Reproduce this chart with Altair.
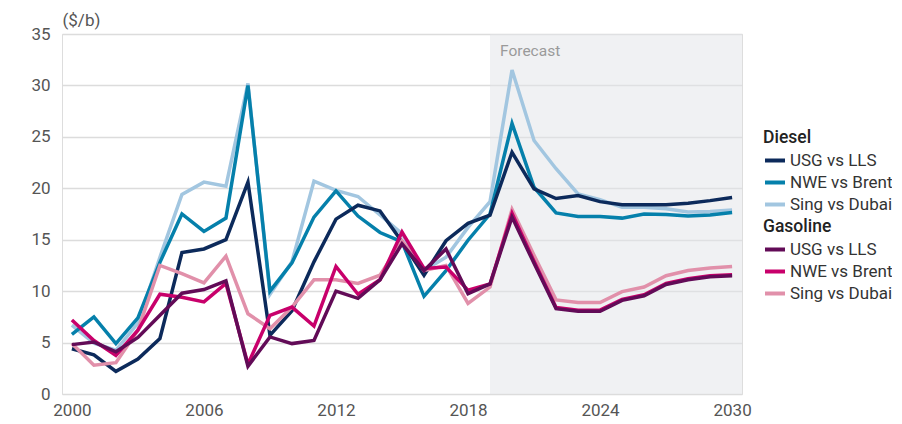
import altair as alt
import pandas as pd

years = list(range(2000, 2031))
series_names = ["USG vs LLS", "NWE vs Brent", "Sing vs Dubai"]

diesel_usg = [4.4, 3.8, 2.2, 3.4, 5.4, 13.75, 14.1, 15.0, 20.6, 5.7, 8.1, 12.85, 17.0, 18.35, 17.8, 14.8,
              11.55, 14.9, 16.6, 17.4, 23.5, 19.95, 19.0, 19.3, 18.7, 18.4, 18.4, 18.4, 18.55, 18.8, 19.1]
diesel_nwe = [5.8, 7.5, 4.9, 7.4, 12.8, 17.5, 15.8, 17.1, 30.0, 10.0, 12.75, 17.2, 19.75, 17.3, 15.7, 14.8,
              9.5, 12.0, 14.95, 17.5, 26.3, 20.1, 17.6, 17.25, 17.25, 17.1, 17.5, 17.45, 17.3, 17.4, 17.65]
diesel_sing = [6.7, 4.95, 4.25, 6.9, 13.3, 19.4, 20.6, 20.2, 30.2, 9.7, 12.85, 20.7, 19.8, 19.2, 17.4, 15.6,
               12.0, 13.3, 16.2, 18.7, 31.5, 24.65, 21.9, 19.45, 18.9, 18.15, 18.15, 18.0, 17.7, 17.75, 17.9]
gas_usg = [4.8, 5.05, 4.1, 5.5, 7.65, 9.8, 10.15, 11.0, 2.7, 5.55, 4.9, 5.2, 10.0, 9.3, 11.1, 14.6,
           12.0, 14.1, 9.75, 10.7, 17.2, 12.7, 8.3, 8.05, 8.05, 9.1, 9.55, 10.65, 11.1, 11.4, 11.5]
gas_nwe = [7.2, 5.2, 3.75, 6.2, 9.7, 9.4, 8.95, 10.75, 2.9, 7.65, 8.45, 6.6, 12.4, 9.7, 11.1, 15.75,
           12.2, 12.35, 10.1, 10.7, 17.55, 12.9, 8.4, 8.15, 8.15, 9.2, 9.65, 10.75, 11.2, 11.5, 11.6]
gas_sing = [4.9, 2.8, 3.05, 6.2, 12.5, 11.7, 10.8, 13.4, 7.8, 6.35, 8.45, 11.1, 11.1, 10.75, 11.55, 14.9,
            12.0, 12.5, 8.8, 10.4, 17.95, 13.5, 9.15, 8.9, 8.9, 9.95, 10.4, 11.5, 12.0, 12.25, 12.4]

diesel_colors = ["#0c2a5b", "#0580ab", "#a2c6e0"]
gas_colors = ["#620b57", "#c8006b", "#e190aa"]

x_domain = [1999.55, 2030.45]
forecast_start = 2019
x_ticks = [2000, 2006, 2012, 2018, 2024, 2030]
y_ticks = [0, 5, 10, 15, 20, 25, 30, 35]

FONT = "Roboto"


def make_df(values_list):
    rows = []
    for name, vals in zip(series_names, values_list):
        for yr, v in zip(years, vals):
            rows.append({"year": yr, "value": v, "series": name})
    return pd.DataFrame(rows)


diesel_df = make_df([diesel_usg, diesel_nwe, diesel_sing])
gas_df = make_df([gas_usg, gas_nwe, gas_sing])

x_enc = alt.X("year:Q", scale=alt.Scale(domain=x_domain, nice=False, zero=False),
              axis=alt.Axis(values=x_ticks, format="d", grid=False, ticks=False, domain=False,
                            labelFontSize=17, labelColor="#555555", labelPadding=8, title=None,
                            labelFlush=False))
y_enc = alt.Y("value:Q", scale=alt.Scale(domain=[0, 35], nice=False),
              axis=alt.Axis(values=y_ticks, grid=True, gridColor="#dcdcdc", gridWidth=1.5,
                            ticks=False, domain=False, labelFontSize=17, labelColor="#555555",
                            labelPadding=12, title="($/b)", titleAngle=0, titleAlign="left",
                            titleBaseline="middle", titleX=0, titleY=-14, titleFontSize=17,
                            titleFontWeight="normal", titleColor="#555555"))


def legend(title, ly):
    return alt.Legend(title=title, orient="none", legendX=701, legendY=ly,
                      symbolType="stroke", symbolStrokeWidth=4, symbolSize=400,
                      labelFontSize=17, labelColor="#333333", titleFontSize=17.5,
                      titleColor="#222222", titleFontWeight=500, labelOffset=3,
                      rowPadding=2, titlePadding=2, labelLimit=300)


def group(df, colors, title, ly):
    layers = []
    for name in reversed(series_names):
        layers.append(
            alt.Chart(df[df["series"] == name]).mark_line(strokeWidth=3.5).encode(
                x=x_enc, y=y_enc,
                color=alt.Color("series:N", scale=alt.Scale(domain=series_names, range=colors),
                                legend=legend(title, ly), title=title)
            )
        )
    return alt.layer(*layers)


shade_df = pd.DataFrame({"start": [forecast_start], "end": [x_domain[1]], "lo": [0], "hi": [35],
                         "label": ["Forecast"]})
shade = alt.Chart(shade_df).mark_rect(color="#e1e3e7", opacity=0.5).encode(
    x=alt.X("start:Q"), x2="end:Q", y=alt.Y("lo:Q"), y2="hi:Q")
ftext = alt.Chart(shade_df).mark_text(align="left", baseline="middle", dx=10, fontSize=15.5,
                                      color="#9a9a9a", font=FONT).encode(
    x=alt.X("start:Q"), y=alt.value(17), text="label:N")

chart = alt.layer(
    shade, ftext,
    group(diesel_df, diesel_colors, "Diesel", 95),
    group(gas_df, gas_colors, "Gasoline", 184),
).resolve_scale(color="independent").properties(
    width=680, height=360,
    autosize=alt.AutoSizeParams(type="none"),
    padding={"left": 54, "top": 26, "right": 150, "bottom": 30},
).configure_view(stroke=None).configure(font=FONT)

chart.save("out.html", embed_options={"renderer": "svg", "actions": False})
